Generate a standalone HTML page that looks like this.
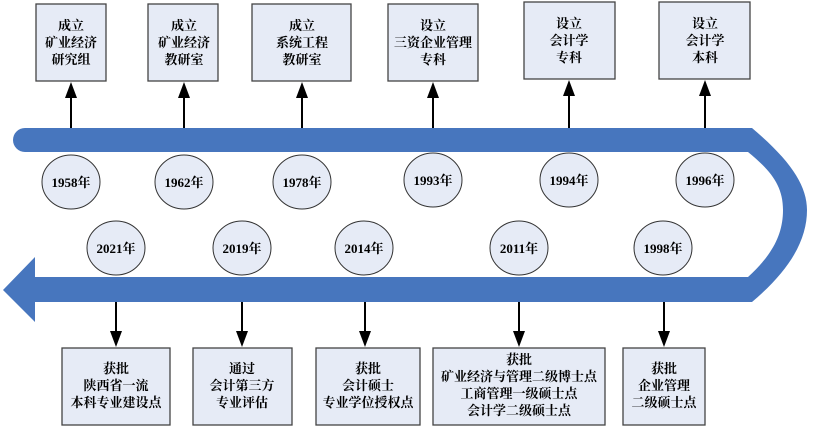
<!DOCTYPE html>
<html><head><meta charset="utf-8"><style>
html,body{margin:0;padding:0;background:#fff;width:830px;height:428px;overflow:hidden}
svg text{font-family:"Liberation Serif","Noto Serif CJK SC",serif;font-weight:bold;font-size:13px;fill:#000;text-anchor:middle}
</style></head><body>
<svg width="830" height="428" viewBox="0 0 830 428" xmlns="http://www.w3.org/2000/svg">
<defs><marker id="ah" markerWidth="12" markerHeight="16" refX="6" refY="0" orient="auto" markerUnits="userSpaceOnUse"></marker></defs>
<path d="M25,128 L752,128 C790,160 807,185 807,210 C807,240 790,270 752,302 L35,302 L35,322 L3,290 L35,257 L35,277 L748,277 C772,255 783,235 783,210 C783,185 770,170 748,152 L25,152 A12,12 0 0 1 25,128 Z" fill="#4776BE"/>
<g fill="#E6EBF6" stroke="#444" stroke-width="1.3">
<rect x="36" y="4" width="70" height="77"/>
<rect x="148" y="4" width="70" height="77"/>
<rect x="252" y="4" width="99" height="77"/>
<rect x="388" y="4" width="90" height="77"/>
<rect x="524" y="2" width="91" height="77"/>
<rect x="659" y="2" width="91" height="77"/>
<rect x="62" y="348" width="108" height="77"/>
<rect x="193" y="348" width="99" height="77"/>
<rect x="316" y="348" width="104" height="77"/>
<rect x="433" y="348" width="172" height="77"/>
<rect x="623" y="348" width="82" height="77"/>
</g>
<g fill="#E6EBF6" stroke="#333" stroke-width="1">
<ellipse cx="71" cy="182" rx="29" ry="27"/>
<ellipse cx="184" cy="182" rx="29" ry="27"/>
<ellipse cx="302" cy="182" rx="29" ry="27"/>
<ellipse cx="433" cy="180" rx="29" ry="27"/>
<ellipse cx="569" cy="180" rx="29" ry="27"/>
<ellipse cx="705" cy="180" rx="29" ry="27"/>
<ellipse cx="116" cy="248" rx="29" ry="27"/>
<ellipse cx="242" cy="248" rx="29" ry="27"/>
<ellipse cx="364" cy="248" rx="29" ry="27"/>
<ellipse cx="519" cy="248" rx="29" ry="27"/>
<ellipse cx="663" cy="248" rx="29" ry="27"/>
</g>
<g stroke="#000" stroke-width="2">
<line x1="71" y1="128" x2="71" y2="96"/><line x1="184" y1="128" x2="184" y2="96"/><line x1="302" y1="128" x2="302" y2="96"/>
<line x1="433" y1="128" x2="433" y2="96"/><line x1="569" y1="128" x2="569" y2="94"/><line x1="705" y1="128" x2="705" y2="94"/>
<line x1="116" y1="302" x2="116" y2="332"/><line x1="242" y1="302" x2="242" y2="332"/><line x1="365" y1="302" x2="365" y2="332"/>
<line x1="519" y1="302" x2="519" y2="332"/><line x1="664" y1="302" x2="664" y2="332"/>
</g>
<g fill="#000">
<polygon points="65,98 77,98 71,82"/><polygon points="178,98 190,98 184,82"/><polygon points="296,98 308,98 302,82"/>
<polygon points="427,98 439,98 433,82"/><polygon points="563,96 575,96 569,80"/><polygon points="699,96 711,96 705,80"/>
<polygon points="110,331 122,331 116,347"/><polygon points="236,331 248,331 242,347"/><polygon points="359,331 371,331 365,347"/>
<polygon points="513,331 525,331 519,347"/><polygon points="658,331 670,331 664,347"/>
</g>
<text x="71" y="187">1958年</text><text x="184" y="187">1962年</text><text x="302" y="187">1978年</text>
<text x="433" y="185">1993年</text><text x="569" y="185">1994年</text><text x="705" y="185">1996年</text>
<text x="116" y="253">2021年</text><text x="242" y="253">2019年</text><text x="364" y="253">2014年</text>
<text x="519" y="253">2011年</text><text x="663" y="253">1998年</text>
<text x="71" y="30">成立</text><text x="71" y="47">矿业经济</text><text x="71" y="64">研究组</text>
<text x="184" y="30">成立</text><text x="184" y="47">矿业经济</text><text x="184" y="64">教研室</text>
<text x="302" y="30">成立</text><text x="302" y="47">系统工程</text><text x="302" y="64">教研室</text>
<text x="433" y="30">设立</text><text x="433" y="47">三资企业管理</text><text x="433" y="64">专科</text>
<text x="569" y="28">设立</text><text x="569" y="45">会计学</text><text x="569" y="62">专科</text>
<text x="705" y="28">设立</text><text x="705" y="45">会计学</text><text x="705" y="62">本科</text>
<text x="116" y="373">获批</text><text x="116" y="390">陕西省一流</text><text x="116" y="407">本科专业建设点</text>
<text x="242" y="373">通过</text><text x="242" y="390">会计第三方</text><text x="242" y="407">专业评估</text>
<text x="368" y="373">获批</text><text x="368" y="390">会计硕士</text><text x="368" y="407">专业学位授权点</text>
<text x="519" y="364">获批</text><text x="519" y="381">矿业经济与管理二级博士点</text><text x="519" y="398">工商管理一级硕士点</text><text x="519" y="415">会计学二级硕士点</text>
<text x="664" y="373">获批</text><text x="664" y="390">企业管理</text><text x="664" y="407">二级硕士点</text>
</svg>
</body></html>
